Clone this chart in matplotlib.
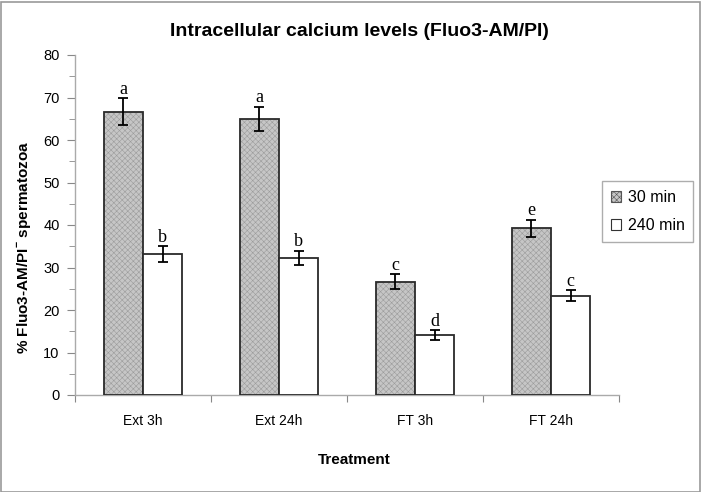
import matplotlib
matplotlib.use("Agg")
import matplotlib.pyplot as plt
import numpy as np
from matplotlib.patches import Rectangle, Patch
from matplotlib.ticker import MultipleLocator

plt.rcParams['font.family'] = ['Liberation Sans', 'DejaVu Sans']
plt.rcParams['mathtext.fontset'] = 'custom'
plt.rcParams['mathtext.bf'] = 'Liberation Sans:bold'
plt.rcParams['mathtext.rm'] = 'Liberation Sans'
plt.rcParams['hatch.linewidth'] = 0.4

categories = ["Ext 3h", "Ext 24h", "FT 3h", "FT 24h"]
series_names = ["30 min", "240 min"]
vals_30 = [66.7, 65.0, 26.7, 39.2]
vals_240 = [33.2, 32.2, 14.1, 23.4]
err_30 = [3.2, 2.8, 1.7, 2.0]
err_240 = [1.8, 1.7, 1.2, 1.3]
letters_30 = ["a", "a", "c", "e"]
letters_240 = ["b", "b", "d", "c"]

W, H = 703, 492
fig = plt.figure(figsize=(W / 100, H / 100), dpi=100)
ax = fig.add_axes([75 / W, 1 - 395 / H, (619 - 75) / W, 340 / H])

x = np.arange(len(categories))
bw = 0.287
gray = '#c6c6c6'
hatchc = '#9c9c9c'
edge = '#2a2a2a'

ax.bar(x - bw / 2, vals_30, bw, color=gray, edgecolor=hatchc, hatch='xxxxxx',
       linewidth=0, zorder=2)
ax.bar(x - bw / 2, vals_30, bw, color='none', edgecolor=edge, linewidth=1.3, zorder=3)
ax.bar(x + bw / 2, vals_240, bw, color='white', edgecolor=edge, linewidth=1.3, zorder=3)

ax.errorbar(x - bw / 2, vals_30, yerr=err_30, fmt='none', ecolor='black',
            elinewidth=1.3, capsize=3.6, capthick=1.3, zorder=4)
ax.errorbar(x + bw / 2, vals_240, yerr=err_240, fmt='none', ecolor='black',
            elinewidth=1.3, capsize=3.6, capthick=1.3, zorder=4)

for xi, v, e, t in zip(x - bw / 2, vals_30, err_30, letters_30):
    ax.text(xi, v + e + 0.1, t, ha='center', va='bottom', fontsize=13,
            family=['Liberation Serif', 'DejaVu Serif'])
for xi, v, e, t in zip(x + bw / 2, vals_240, err_240, letters_240):
    ax.text(xi, v + e + 0.1, t, ha='center', va='bottom', fontsize=13,
            family=['Liberation Serif', 'DejaVu Serif'])

ax.set_xlim(-0.5, len(categories) - 0.5)
ax.set_ylim(0, 80)
ax.yaxis.set_major_locator(MultipleLocator(10))
ax.yaxis.set_minor_locator(MultipleLocator(5))

ax.set_xticks(np.arange(len(categories) + 1) - 0.5)
ax.set_xticklabels([])
ax.set_xticks(x, minor=True)
ax.set_xticklabels(categories, minor=True)
ax.tick_params(axis='x', which='major', length=5, color='#888888', direction='out')
ax.tick_params(axis='x', which='minor', length=0, pad=14, labelsize=10)
ax.tick_params(axis='y', which='major', length=6, color='#888888', labelsize=10.5, pad=5)
ax.tick_params(axis='y', which='minor', length=4, color='#888888')

for s in ['top', 'right']:
    ax.spines[s].set_visible(False)
for s in ['left', 'bottom']:
    ax.spines[s].set_color('#aaaaaa')
    ax.spines[s].set_linewidth(1.0)

fig.text(359 / W, 1 - 32 / H, "Intracellular calcium levels (Fluo3-AM/PI)",
         ha='center', va='center', fontsize=14, fontweight='bold')
fig.text(24 / W, 1 - 247 / H, r"% Fluo3-AM/PI$^{\mathbf{-}}$ spermatozoa",
         ha='center', va='center', rotation=90, fontsize=11, fontweight='bold')
fig.text(354 / W, 1 - 460 / H, "Treatment", ha='center', va='center',
         fontsize=11, fontweight='bold')

h1 = Patch(facecolor=gray, edgecolor='#555555', hatch='xxxxxx', linewidth=0.8)
h2 = Patch(facecolor='white', edgecolor='#333333', linewidth=0.8)
leg = fig.legend([h1, h2], series_names, loc='upper left',
                 bbox_to_anchor=(602 / W, 1 - 181 / H), bbox_transform=fig.transFigure,
                 fontsize=11.5, frameon=True, fancybox=False, shadow=False,
                 handlelength=0.65, handleheight=0.65, handletextpad=0.4,
                 borderpad=0.55, labelspacing=0.85, borderaxespad=0)
leg.get_frame().set_edgecolor('#999999')
leg.get_frame().set_linewidth(1.0)

fig.patches.append(Rectangle((0.5 / W, 0.5 / H), 1 - 4 / W, 1 - 2 / H,
                             transform=fig.transFigure, fill=False,
                             edgecolor='#999999', linewidth=1.2))

fig.savefig("out.png", dpi=100)
